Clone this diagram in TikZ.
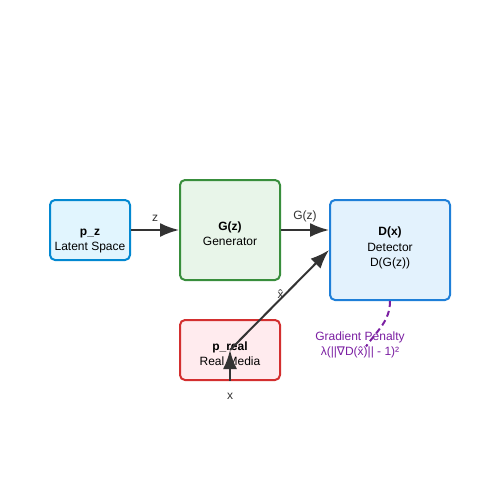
\documentclass[tikz,border=0pt]{standalone}
\usepackage{fontspec}
\setmainfont{Liberation Sans}
\newfontfamily\symfont{DejaVu Sans}
\usetikzlibrary{arrows.meta}
\usetikzlibrary{positioning}
\definecolor{pzfill}{HTML}{E1F5FE}
\definecolor{pzline}{HTML}{0288D1}
\definecolor{genfill}{HTML}{E8F5E9}
\definecolor{genline}{HTML}{388E3C}
\definecolor{detfill}{HTML}{E3F2FD}
\definecolor{detline}{HTML}{1E7FD8}
\definecolor{realfill}{HTML}{FFEBEE}
\definecolor{realline}{HTML}{D32F2F}
\definecolor{gpcolor}{HTML}{7B1FA2}
\definecolor{arrowgray}{HTML}{333333}
\tikzset{>={Latex[length=19pt,width=14pt]}}
\tikzset{
    block/.style={draw, line width=2pt, rounded corners=5pt},
    pzbox/.style={block, draw=pzline, fill=pzfill, minimum width=80pt, minimum height=60pt},
    genbox/.style={block, draw=genline, fill=genfill, minimum width=100pt, minimum height=100pt},
    detbox/.style={block, draw=detline, fill=detfill, minimum width=120pt, minimum height=100pt},
    realbox/.style={block, draw=realline, fill=realfill, minimum width=100pt, minimum height=60pt},
    boxtext/.style={align=center, inner sep=0pt, font=\fontsize{12}{15.5}\selectfont, text=black},
    flow/.style={->, draw=arrowgray, fill=arrowgray, line width=2pt},
    lbl/.style={font=\fontsize{12}{15}\selectfont, text=arrowgray},
    penalty/.style={draw=gpcolor, line width=2pt, dash pattern=on 6pt off 4pt},
}
\begin{document}
\begin{tikzpicture}[x=1pt,y=-1pt]
	\useasboundingbox (0,0) rectangle (500,500);
	% boxes
	\node[pzbox] (pz) at (90,230) {};
	\node[genbox] (gen) at (230,230) {};
	\node[detbox] (det) at (390,250) {};
	\node[realbox] (preal) at (230,350) {};
	% box texts
	\node[boxtext] (pztext) at ([yshift=-11pt]pz.center) {\textbf{p\_z}\\Latent Space};
	\node[boxtext] (gentext) at ([yshift=-3.5pt]gen.center) {\textbf{G(z)}\\Generator};
	\node[boxtext] (dettext) at ([yshift=2pt]det.center) {\textbf{D(x)}\\Detector\\D(G(z))};
	\node[boxtext] (realtext) at ([yshift=-3.5pt]preal.center) {\textbf{p\_real}\\Real Media};
	\node[lbl, below=9pt of preal.south] (xin) {x};
	\node[lbl, align=center, text=gpcolor] (gp) at (360,344.5)
		{Gradient Penalty\\λ(||{\symfont∇}D(\^{x})|| - 1)²};
	% connectors
	\draw[flow] (pz.east) -- (gen.west) node[lbl, midway, above=4pt] (zlbl) {z};
	\draw[flow] (gen.east) -- (det.west |- gen.east) node[lbl, midway, above=4pt] (gzlbl) {G(z)};
	\draw[flow] (preal.south) -- (preal.center);
	\draw[flow] (preal.center) -- (det.west) node[lbl, midway, xshift=1pt, yshift=6pt] (xhat) {\^{x}};
	\draw[penalty] (det.south) to[out=-90, in=55] ([xshift=6pt, yshift=-2pt]gp.center);
\end{tikzpicture}
\end{document}
